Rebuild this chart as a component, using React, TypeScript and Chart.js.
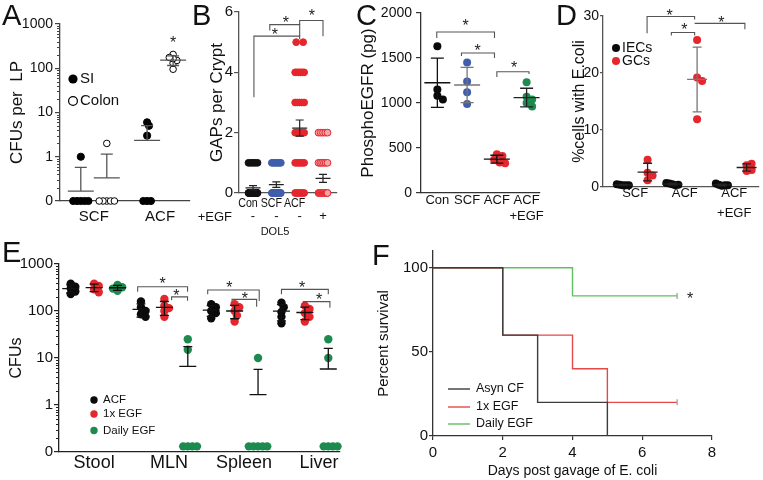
import React, { useEffect, useRef } from 'react';
import { Chart, registerables } from 'chart.js';

Chart.register(...registerables);

const W = 763;
const H = 480;
const FF = "'Liberation Sans', Arial, Helvetica, sans-serif";

// ---------- Panel A ----------
const aCategories = ['SCF', 'ACF'];
const aSeriesNames = ['SI', 'Colon'];
const aTickValues = [0, 1, 10, 100, 1000];
const aSI = [[0, 0, 0, 0, 0, 1], [0, 0, 0, 3, 6, 5]];
const aColon = [[0, 0, 0, 0, 0, 2], [205, 95, 130, 150, 165, 175]];

// ---------- Panel B ----------
const bCategories = ['Con', 'SCF', 'ACF', ''];
const bEGF = ['-', '-', '-', '+'];
const bGapValues = [0, 1, 2, 3, 4, 5];
const bConCounts = [24, 5, 0, 0, 0, 0];
const bSCFCounts = [18, 7, 0, 0, 0, 0];
const bACFCounts = [6, 6, 8, 5, 6, 2];
const bACFEGFCounts = [22, 6, 5, 0, 0, 0];
const bTicks = [0, 2, 4, 6];

// ---------- Panel C ----------
const cCategories = [['Con'], ['SCF'], ['ACF'], ['ACF', '+EGF']];
const cCon = [1630, 1150, 1080, 1040];
const cSCF = [1450, 1240, 1120, 990];
const cACF = [430, 410, 370, 340, 330];
const cACFEGF = [1230, 1070, 1040, 1000, 960];
const cTicks = [0, 500, 1000, 1500, 2000];

// ---------- Panel D ----------
const dCategories = [['SCF'], ['ACF'], ['ACF', '+EGF']];
const dSeriesNames = ['IECs', 'GCs'];
const dIECs = [[0.3, 0.3, 0.4, 0.3, 0.5], [0.5, 0.3, 0.6, 0.4, 0.7], [0.2, 0.3, 0.4, 0.3, 0.6]];
const dGCs = [[4.8, 2.5, 2.0, 1.2], [25.8, 19.2, 18.6, 11.9], [3.8, 4.1, 2.8, 3.0]];
const dTicks = [0, 10, 20, 30];

// ---------- Panel E ----------
const eCategories = ['Stool', 'MLN', 'Spleen', 'Liver'];
const eSeriesNames = ['ACF', '1x EGF', 'Daily EGF'];
const eTickValues = [0, 1, 10, 100, 1000];
const eACF = [[380, 330, 300, 260, 230], [160, 120, 100, 85, 75], [140, 120, 100, 90, 70], [150, 120, 95, 75, 55]];
const e1x = [[380, 340, 290, 250], [180, 130, 115, 100, 75], [140, 120, 100, 80, 60], [130, 110, 90, 75, 60]];
const eDaily = [[360, 320, 300, 270], [25, 15, 0, 0, 0, 0], [10, 0, 0, 0, 0, 0], [25, 10, 0, 0, 0, 0]];

// ---------- Panel F ----------
const fSeriesNames = ['Asyn CF', '1x EGF', 'Daily EGF'];
const fAsynDays = [0, 2, 3, 5];
const fAsynSurvival = [100, 60, 20, 0];
const f1xDays = [0, 2, 4, 5, 7];
const f1xSurvival = [100, 60, 40, 20, 20];
const fDailyDays = [0, 4, 7];
const fDailySurvival = [100, 83.3, 83.3];
const fXTicks = [0, 2, 4, 6, 8];
const fYTicks = [0, 50, 100];

// ---------- helpers ----------
const mean = (a: number[]) => a.reduce((s, v) => s + v, 0) / a.length;
const sdev = (a: number[]) => {
  const m = mean(a);
  return Math.sqrt(a.reduce((s, v) => s + (v - m) ** 2, 0) / (a.length - 1));
};
const lg = (v: number, zero = -1) => (v <= 0 ? zero : Math.log10(v));
const minorLogTicks = () => {
  const out: number[] = [];
  for (let d = -1; d <= 2; d++) for (let k = 2; k <= 9; k++) out.push(Math.log10(k * Math.pow(10, d)));
  return out;
};

function yAxis(o: any) {
  return {
    type: 'linear', position: 'left', min: o.min, max: o.max,
    afterFit: (s: any) => { s.width = o.width; },
    afterBuildTicks: (s: any) => { s.ticks = o.ticks.map((v: number) => ({ value: v })); },
    ticks: { autoSkip: false, padding: o.pad, color: '#111', font: { family: FF, size: o.size }, callback: (_v: any, i: number) => o.labels[i] },
    grid: { display: true, drawOnChartArea: false, drawTicks: true, tickLength: o.tickLen, color: o.color, lineWidth: 1.2 },
    border: { display: true, color: o.color, width: 1.3 },
    title: { display: !!o.title, text: o.title || '', color: '#111', font: { family: FF, size: o.titleSize || 16 }, padding: { top: o.titlePad || 0, bottom: 0 } },
  };
}

function xAxis(o: any) {
  return {
    type: 'linear', position: 'bottom', min: o.min, max: o.max,
    afterFit: (s: any) => { s.height = o.height; },
    afterBuildTicks: (s: any) => { s.ticks = o.ticks.map((v: number) => ({ value: v })); },
    ticks: { autoSkip: false, maxRotation: 0, minRotation: 0, padding: o.pad, color: '#111', font: { family: FF, size: o.size, lineHeight: o.lh || 1.2 }, callback: (_v: any, i: number) => o.labels[i] },
    grid: { display: !!o.tickLen, drawOnChartArea: false, drawTicks: true, tickLength: o.tickLen || 0, color: o.color, lineWidth: 1.2 },
    border: { display: true, color: o.color, width: 1.3 },
    title: { display: !!o.title, text: o.title || '', color: '#111', font: { family: FF, size: o.titleSize || 14 }, padding: { top: 0, bottom: o.titlePad || 0 } },
  };
}

function pointDs(tv: number[], cx: number, r: number, fill: string, border: string, bw: number) {
  return {
    data: tv.map((y) => ({ x: cx, y })),
    pointRadius: r, pointHoverRadius: r, pointBackgroundColor: fill, pointBorderColor: border,
    pointBorderWidth: bw, clip: false, showLine: false,
  };
}

function decorPlugin(d: any) {
  return {
    id: 'decor',
    afterDatasetsDraw(chart: any) {
      const { ctx } = chart;
      const x = chart.scales.x, y = chart.scales.y;
      ctx.save();
      for (const e of d.errs || []) {
        const px = x.getPixelForValue(e.x);
        const pm = y.getPixelForValue(e.mean);
        ctx.strokeStyle = e.color;
        ctx.lineWidth = e.lw || 1.3;
        ctx.beginPath();
        ctx.moveTo(px - e.meanW / 2, pm); ctx.lineTo(px + e.meanW / 2, pm);
        const top = e.hi != null ? y.getPixelForValue(e.hi) : pm;
        const bot = e.lo != null ? y.getPixelForValue(e.lo) : pm;
        ctx.moveTo(px, top); ctx.lineTo(px, bot);
        if (e.hi != null) { ctx.moveTo(px - e.capW / 2, top); ctx.lineTo(px + e.capW / 2, top); }
        if (e.lo != null) { ctx.moveTo(px - e.capW / 2, bot); ctx.lineTo(px + e.capW / 2, bot); }
        ctx.stroke();
      }
      ctx.restore();
    },
    afterDraw(chart: any) {
      const { ctx, chartArea } = chart;
      const x = chart.scales.x, y = chart.scales.y;
      ctx.save();
      // minor ticks
      if (d.minor) {
        ctx.strokeStyle = d.axisColor || '#222';
        ctx.lineWidth = 1;
        ctx.beginPath();
        for (const v of d.minor) {
          const py = Math.round(y.getPixelForValue(v)) + 0.5;
          ctx.moveTo(chartArea.left, py); ctx.lineTo(chartArea.left - (d.minorLen || 3), py);
        }
        ctx.stroke();
      }
      // brackets
      ctx.strokeStyle = d.bracketColor || '#555';
      ctx.lineWidth = 1.1;
      for (const b of d.brackets || []) {
        ctx.beginPath();
        ctx.moveTo(x.getPixelForValue(b.x1), y.getPixelForValue(b.y1));
        ctx.lineTo(x.getPixelForValue(b.x1), y.getPixelForValue(b.y));
        ctx.lineTo(x.getPixelForValue(b.x2), y.getPixelForValue(b.y));
        ctx.lineTo(x.getPixelForValue(b.x2), y.getPixelForValue(b.y2));
        ctx.stroke();
      }
      // stars
      const ss = d.starSize || 16;
      ctx.fillStyle = '#222';
      ctx.font = `${ss}px ${FF}`;
      ctx.textAlign = 'center';
      ctx.textBaseline = 'middle';
      for (const s of d.stars || []) {
        ctx.fillText('*', x.getPixelForValue(s.x), y.getPixelForValue(s.y) + 0.23 * ss);
      }
      // legend
      for (const it of d.legend || []) {
        ctx.beginPath();
        if (it.kind === 'line') {
          ctx.strokeStyle = it.color; ctx.lineWidth = 1.4;
          ctx.moveTo(it.x, it.y); ctx.lineTo(it.x + 22, it.y); ctx.stroke();
        } else {
          ctx.arc(it.x, it.y, it.r, 0, Math.PI * 2);
          if (it.kind === 'dot') { ctx.fillStyle = it.color; ctx.fill(); }
          else { ctx.fillStyle = '#fff'; ctx.fill(); ctx.strokeStyle = it.color; ctx.lineWidth = 1.2; ctx.stroke(); }
        }
        ctx.fillStyle = '#111';
        ctx.font = `${it.size}px ${FF}`;
        ctx.textAlign = 'left';
        ctx.textBaseline = 'middle';
        ctx.fillText(it.label, it.tx, it.y);
      }
      // category texts positioned on the x scale (condensed)
      for (const t of d.xTexts || []) {
        ctx.save();
        ctx.translate(x.getPixelForValue(t.x) + (t.dx || 0), t.y);
        ctx.scale(t.sx || 1, 1);
        ctx.fillStyle = '#111';
        ctx.font = `${t.size}px ${FF}`;
        ctx.textAlign = 'center';
        ctx.textBaseline = 'middle';
        ctx.fillText(t.text, 0, 0);
        ctx.restore();
      }
      // free texts (pixel positions)
      for (const t of d.texts || []) {
        ctx.fillStyle = t.color || '#111';
        ctx.font = `${t.size}px ${FF}`;
        ctx.textAlign = t.align || 'left';
        ctx.textBaseline = t.baseline || 'middle';
        ctx.fillText(t.text, t.x, t.y);
      }
      ctx.restore();
    },
  };
}

function makeConfig(type: string, datasets: any[], area: any, yW: number, xH: number, scales: any, decor: any) {
  return {
    type,
    data: { datasets },
    options: {
      responsive: false, animation: false, events: [],
      layout: { padding: { left: area.L - yW, top: area.T, right: W - area.R, bottom: H - area.B - xH } },
      plugins: { legend: { display: false }, tooltip: { enabled: false } },
      scales,
    },
    plugins: [decorPlugin(decor)],
  };
}

// ---------- builders ----------
function buildA() {
  const area = { L: 60, R: 190, T: 24, B: 201 }, yW = 55, xH = 30;
  const pos = [1.3, 3.85];
  const datasets: any[] = [], swarms: any[] = [], errs: any[] = [];
  const series = [aSI, aColon];
  const st = [{ off: -0.5, fill: '#000', r: 3.6 }, { off: 0.5, fill: '#fff', r: 3.3 }];
  aCategories.forEach((_c, g) => {
    series.forEach((sd, si) => {
      const vals = sd[g]; const cx = pos[g] + st[si].off;
      const tv = vals.map((v) => lg(v));
      datasets.push(pointDs(tv, cx, st[si].r, st[si].fill, '#000', 1));
      swarms.push({ ds: datasets.length - 1, cx, vals: tv, md: 3.8 });
      const m = mean(vals), s = sdev(vals);
      errs.push({ x: cx, mean: lg(m), lo: m - s > 0 ? lg(m - s) : null, hi: lg(m + s), meanW: 26, capW: 12, color: '#555' });
    });
  });
  const scales = {
    x: xAxis({ min: 0, max: 5, height: xH, ticks: pos, labels: aCategories, pad: 7, size: 15, color: '#444' }),
    y: yAxis({ min: -1, max: 3, width: yW, ticks: aTickValues.map((v) => lg(v)), labels: aTickValues.map(String), pad: 2, size: 14, tickLen: 5, color: '#444', title: 'CFUs per  LP', titleSize: 17, titlePad: 2 }),
  };
  const decor = {
    errs, minor: minorLogTicks(), axisColor: '#444',
    stars: [{ x: 4.35, y: lg(435) }],
    legend: [
      { kind: 'dot', color: '#000', label: aSeriesNames[0], x: 73, y: 79, r: 4.6, tx: 80, size: 15 },
      { kind: 'ring', color: '#000', label: aSeriesNames[1], x: 73, y: 101, r: 4.4, tx: 80, size: 15 },
    ],
    texts: [{ text: 'A', x: 2, y: 25, size: 29, baseline: 'alphabetic' }],
  };
  return { config: makeConfig('scatter', datasets, area, yW, xH, scales, decor), swarms };
}

function buildB() {
  const area = { L: 239, R: 337, T: 12, B: 193 }, yW = 32, xH = 40;
  const pos = bCategories.map((_c, i) => 0.6 + i);
  const counts = [bConCounts, bSCFCounts, bACFCounts, bACFEGFCounts];
  const fills = ['#111', '#3f5eab', '#e5262d', '#f4a3a6'];
  const borders = ['#111', '#3f5eab', '#e5262d', '#e5262d'];
  const datasets: any[] = [], swarms: any[] = [], errs: any[] = [];
  counts.forEach((cnt, g) => {
    const vals: number[] = [];
    cnt.forEach((n, k) => { for (let j = 0; j < n; j++) vals.push(bGapValues[k]); });
    datasets.push(pointDs(vals, pos[g], 3.4, fills[g], borders[g], 1));
    swarms.push({ ds: datasets.length - 1, cx: pos[g], vals, md: 7, row: 9 });
    const m = mean(vals), se = sdev(vals) / Math.sqrt(vals.length);
    errs.push({ x: pos[g], mean: m, lo: m - se, hi: m + se, meanW: 15, capW: 8, color: '#222', lw: 1.2 });
  });
  const scales = {
    x: xAxis({ min: 0, max: 4.2, height: xH, ticks: pos, labels: bEGF, pad: 16, size: 13, color: '#555' }),
    y: yAxis({ min: 0, max: 6, width: yW, ticks: bTicks, labels: bTicks.map(String), pad: 1, size: 15, tickLen: 5, color: '#555', title: 'GAPs per Crypt', titleSize: 17, titlePad: 0 }),
  };
  const decor = {
    errs,
    brackets: [
      { x1: 0.64, x2: 2.6, y: 5.2, y1: 3.17, y2: 5.1 },
      { x1: 1.32, x2: 2.6, y: 5.58, y1: 5.39, y2: 5.2 },
      { x1: 2.6, x2: 3.6, y: 5.72, y1: 5.58, y2: 5.2 },
    ],
    stars: [{ x: 1.54, y: 5.33 }, { x: 2.01, y: 5.73 }, { x: 3.12, y: 5.96 }],
    xTexts: bCategories.map((c, i) => ({ text: c, x: pos[i], dx: -5, y: 203, size: 13, sx: 0.82 })),
    texts: [
      { text: 'B', x: 192, y: 25, size: 29, baseline: 'alphabetic' },
      { text: '+EGF', x: 232, y: 217, size: 13, align: 'right' },
      { text: 'DOL5', x: 275, y: 232, size: 11, align: 'center' },
    ],
  };
  return { config: makeConfig('scatter', datasets, area, yW, xH, scales, decor), swarms };
}

function buildC() {
  const area = { L: 421, R: 540, T: 13, B: 193 }, yW = 64, xH = 40;
  const pos = cCategories.map((_c, i) => 0.55 + i);
  const groups = [cCon, cSCF, cACF, cACFEGF];
  const colors = ['#0a0a0a', '#3f5eab', '#e5262d', '#1d8b4f'];
  const errColors = ['#111', '#777', '#111', '#222'];
  const datasets: any[] = [], swarms: any[] = [], errs: any[] = [];
  groups.forEach((vals, g) => {
    datasets.push(pointDs(vals, pos[g], 4, colors[g], colors[g], 0));
    swarms.push({ ds: datasets.length - 1, cx: pos[g], vals, md: 5.5 });
    const m = mean(vals), s = sdev(vals);
    errs.push({ x: pos[g], mean: m, lo: m - s, hi: m + s, meanW: 26, capW: 13, color: errColors[g] });
  });
  const scales = {
    x: xAxis({ min: 0, max: 4, height: xH, ticks: pos, labels: cCategories, pad: 0, size: 13, lh: 1.2, color: '#333' }),
    y: yAxis({ min: 0, max: 2000, width: yW, ticks: cTicks, labels: cTicks.map(String), pad: 4, size: 14, tickLen: 5, color: '#333', title: 'PhosphoEGFR (pg)', titleSize: 17, titlePad: 1 }),
  };
  const decor = {
    errs,
    brackets: [
      { x1: 0.53, x2: 2.47, y: 1789, y1: 1722, y2: 1722 },
      { x1: 1.36, x2: 2.47, y: 1555, y1: 1522, y2: 1500 },
      { x1: 2.55, x2: 3.63, y: 1348, y1: 1289, y2: 1322 },
    ],
    stars: [{ x: 1.5, y: 1889 }, { x: 1.9, y: 1611 }, { x: 3.13, y: 1422 }],
    texts: [{ text: 'C', x: 356, y: 25, size: 29, baseline: 'alphabetic' }],
  };
  return { config: makeConfig('scatter', datasets, area, yW, xH, scales, decor), swarms };
}

function buildD() {
  const area = { L: 603, R: 760, T: 16, B: 187 }, yW = 36, xH = 45;
  const pos = dCategories.map((_c, g) => 1.3 + 2 * g);
  const datasets: any[] = [], swarms: any[] = [], errs: any[] = [];
  dCategories.forEach((_c, g) => {
    const sets = [
      { vals: dIECs[g], cx: 2 * g + 0.8, color: '#0a0a0a', md: 3, ec: '#222' },
      { vals: dGCs[g], cx: 2 * g + 1.8, color: '#e5262d', md: 5, ec: g === 1 ? '#777' : '#222' },
    ];
    sets.forEach((s) => {
      datasets.push(pointDs(s.vals, s.cx, 4, s.color, s.color, 0));
      swarms.push({ ds: datasets.length - 1, cx: s.cx, vals: s.vals, md: s.md });
      const m = mean(s.vals), sd = sdev(s.vals);
      errs.push({ x: s.cx, mean: m, lo: m - sd, hi: m + sd, meanW: 20, capW: 9, color: s.ec });
    });
  });
  const scales = {
    x: xAxis({ min: 0, max: 6.3, height: xH, ticks: pos, labels: dCategories, pad: -4, size: 13, lh: 1.55, color: '#555' }),
    y: yAxis({ min: 0, max: 30, width: yW, ticks: dTicks, labels: dTicks.map(String), pad: 1, size: 14, tickLen: 3, color: '#555', title: '%cells with E.coli', titleSize: 16, titlePad: 3 }),
  };
  const decor = {
    errs,
    brackets: [
      { x1: 1.78, x2: 3.7, y: 29.9, y1: 26.96, y2: 29.4 },
      { x1: 2.76, x2: 3.7, y: 27.1, y1: 26.6, y2: 26.6 },
      { x1: 3.7, x2: 5.73, y: 28.7, y1: 28.7, y2: 27.66 },
    ],
    stars: [{ x: 2.69, y: 30.5 }, { x: 3.29, y: 28.1 }, { x: 4.78, y: 29.3 }],
    legend: [
      { kind: 'dot', color: '#0a0a0a', label: dSeriesNames[0], x: 616, y: 48, r: 4, tx: 622, size: 14 },
      { kind: 'dot', color: '#e5262d', label: dSeriesNames[1], x: 616, y: 61, r: 4, tx: 622, size: 14 },
    ],
    texts: [{ text: 'D', x: 556, y: 25, size: 29, baseline: 'alphabetic' }],
  };
  return { config: makeConfig('scatter', datasets, area, yW, xH, scales, decor), swarms };
}

function buildE() {
  const area = { L: 59, R: 340, T: 264, B: 452 }, yW = 52, xH = 28;
  const zero = -0.88;
  const labelPos = eCategories.map((_c, g) => 1.5 + 3.2 * g);
  const series = [eACF, e1x, eDaily];
  const colors = ['#0a0a0a', '#e5262d', '#1d8b4f'];
  const datasets: any[] = [], swarms: any[] = [], errs: any[] = [];
  eCategories.forEach((_c, g) => {
    series.forEach((sd, si) => {
      const vals = sd[g]; const cx = 3 * g + 0.5 + si;
      const tv = vals.map((v) => lg(v, zero));
      datasets.push(pointDs(tv, cx, 4.2, colors[si], colors[si], 0));
      swarms.push({ ds: datasets.length - 1, cx, vals: tv, md: 4.6 });
      const m = mean(vals), s = sdev(vals);
      errs.push({ x: cx, mean: lg(m), lo: m - s > 0 ? lg(m - s) : null, hi: lg(m + s), meanW: 17, capW: 9, color: '#111' });
    });
  });
  const scales = {
    x: xAxis({ min: 0, max: 12, height: xH, ticks: labelPos, labels: eCategories, pad: 0, size: 18, color: '#222' }),
    y: yAxis({ min: -1, max: 3, width: yW, ticks: eTickValues.map((v) => lg(v)), labels: eTickValues.map(String), pad: 1, size: 15, tickLen: 5, color: '#222', title: 'CFUs', titleSize: 16, titlePad: 0 }),
  };
  const decor = {
    errs, minor: minorLogTicks(), axisColor: '#222',
    brackets: [
      { x1: 3.36, x2: 5.49, y: lg(329), y1: lg(257), y2: lg(257) },
      { x1: 4.81, x2: 5.49, y: lg(200), y1: lg(170), y2: lg(166) },
      { x1: 6.35, x2: 8.55, y: lg(280), y1: lg(226), y2: lg(163) },
      { x1: 7.39, x2: 8.44, y: lg(177), y1: lg(158), y2: lg(123) },
      { x1: 9.5, x2: 11.5, y: lg(288), y1: lg(226), y2: lg(226) },
      { x1: 10.44, x2: 11.57, y: lg(158), y1: lg(141), y2: lg(117) },
    ],
    stars: [
      { x: 4.43, y: lg(435) }, { x: 5.01, y: lg(241) },
      { x: 7.28, y: lg(357) }, { x: 7.94, y: lg(208) },
      { x: 10.38, y: lg(357) }, { x: 11.11, y: lg(199) },
    ],
    legend: eSeriesNames.map((n, i) => ({ kind: 'dot', color: colors[i], label: n, x: 94, y: [400, 414, 430.5][i], r: 3.7, tx: 103, size: 11.5 })),
    texts: [{ text: 'E', x: 2, y: 262, size: 29, baseline: 'alphabetic' }],
  };
  return { config: makeConfig('scatter', datasets, area, yW, xH, scales, decor), swarms };
}

function buildF() {
  const area = { L: 433, R: 712, T: 251, B: 436 }, yW = 60, xH = 44;
  const colors = ['#3c3c3c', '#e24a4a', '#62bf62'];
  const mk = (days: number[], surv: number[], color: string, order: number, censor: boolean) => ({
    data: days.map((d, i) => ({ x: d, y: surv[i] })),
    borderColor: color, borderWidth: 1.4, stepped: true, fill: false, order, clip: false,
    pointRadius: days.map((_d, i) => (censor && i === days.length - 1 ? 3 : 0)),
    pointStyle: 'line', rotation: 90, pointBorderColor: '#9a9a9a', pointBorderWidth: 1.2, pointBackgroundColor: color,
  });
  const datasets = [
    mk(fAsynDays, fAsynSurvival, colors[0], 0, false),
    mk(f1xDays, f1xSurvival, colors[1], 1, true),
    mk(fDailyDays, fDailySurvival, colors[2], 2, true),
  ];
  const scales = {
    x: xAxis({ min: 0, max: 8, height: xH, ticks: fXTicks, labels: fXTicks.map(String), pad: 4, size: 15, tickLen: 4, color: '#333', title: 'Days post gavage of E. coli', titleSize: 14, titlePad: 0.6 }),
    y: yAxis({ min: 0, max: 110, width: yW, ticks: fYTicks, labels: fYTicks.map(String), pad: 1, size: 15, tickLen: 4, color: '#333', title: 'Percent survival', titleSize: 15, titlePad: 1.5 }),
  };
  const decor = {
    stars: [{ x: 7.37, y: 83.3 }],
    legend: fSeriesNames.map((n, i) => ({ kind: 'line', color: colors[i], label: n, x: 448, y: [389, 407, 424][i], tx: 476, size: 12.5 })),
    texts: [{ text: 'F', x: 372, y: 265, size: 29, baseline: 'alphabetic' }],
  };
  return { config: makeConfig('line', datasets, area, yW, xH, scales, decor), swarms: [] };
}

function applySwarms(chart: any, swarms: any[]) {
  if (!swarms.length) return;
  const xs = chart.scales.x, ys = chart.scales.y;
  const k = xs.width / (xs.max - xs.min);
  for (const s of swarms) {
    const pts: any[] = [];
    if (s.row != null) {
      const totals = new Map<number, number>();
      s.vals.forEach((v: number) => totals.set(v, (totals.get(v) || 0) + 1));
      const seen = new Map<number, number>();
      s.vals.forEach((v: number) => {
        const n = totals.get(v) || 1;
        const j = seen.get(v) || 0;
        seen.set(v, j + 1);
        const sp = n > 1 ? Math.min(s.md, s.row / (n - 1)) : 0;
        const dx = (j - (n - 1) / 2) * sp;
        pts.push({ x: s.cx + dx / k, y: v });
      });
    } else {
      const placed: { x: number; y: number }[] = [];
      const md = s.md, step = md / 2;
      s.vals.forEach((v: number) => {
        const py = ys.getPixelForValue(v);
        let dx = 0;
        for (let i = 0; i < 400; i++) {
          const cand = i === 0 ? 0 : (i % 2 === 1 ? 1 : -1) * Math.ceil(i / 2) * step;
          if (placed.every((p) => (p.x - cand) ** 2 + (p.y - py) ** 2 >= md * md - 1e-6)) { dx = cand; break; }
        }
        placed.push({ x: dx, y: py });
        pts.push({ x: s.cx + dx / k, y: v });
      });
    }
    chart.data.datasets[s.ds].data = pts;
  }
  chart.update();
}

export default function App() {
  const refs = useRef<(HTMLCanvasElement | null)[]>([]);
  useEffect(() => {
    document.body.style.margin = '0';
    const builders = [buildA, buildB, buildC, buildD, buildE, buildF];
    const charts = builders.map((b, i) => {
      const spec = b();
      const c = new Chart(refs.current[i] as HTMLCanvasElement, spec.config as any);
      applySwarms(c, spec.swarms);
      return c;
    });
    return () => charts.forEach((c) => c.destroy());
  }, []);
  return (
    <div style={{ position: 'relative', width: W, height: H, background: '#fff', overflow: 'hidden' }}>
      {[0, 1, 2, 3, 4, 5].map((i) => (
        <canvas key={i} ref={(el) => { refs.current[i] = el; }} width={W} height={H} style={{ position: 'absolute', left: 0, top: 0 }} />
      ))}
    </div>
  );
}
